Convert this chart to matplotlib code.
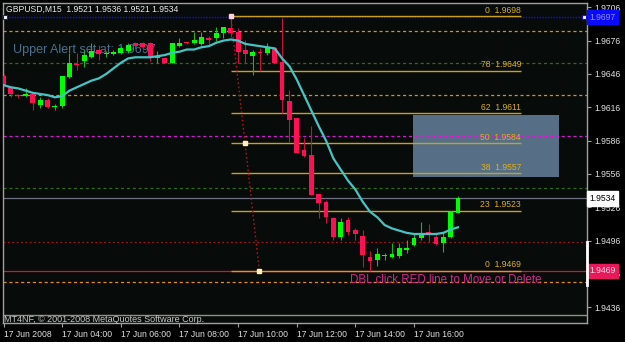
import matplotlib
matplotlib.use('Agg')
import matplotlib.pyplot as plt
from matplotlib.patches import Rectangle

plt.rcParams['font.family'] = ['Liberation Sans', 'DejaVu Sans']

# GBPUSD M15, 17 Jun 2008, bars from 02:00 to 17:30
opens = [1.9644, 1.9633, 1.9627, 1.9626, 1.9628, 1.9618, 1.9623, 1.9616, 1.9617, 1.9643,
         1.9655, 1.9658, 1.9661, 1.9668, 1.9664, 1.9664, 1.9665, 1.9667, 1.9674, 1.9674,
         1.9674, 1.9660, 1.9660, 1.9656, 1.9671, 1.9675, 1.9674, 1.9673, 1.9678, 1.9678,
         1.9683, 1.9687, 1.9684, 1.9668, 1.9662, 1.9666, 1.9665, 1.9669, 1.9657, 1.9622,
         1.9606, 1.9578, 1.9573, 1.9538, 1.9531, 1.9516, 1.9499, 1.9515, 1.9506, 1.9500,
         1.9481, 1.9479, 1.9482, 1.9481, 1.9482, 1.9488, 1.9492, 1.9498, 1.9504, 1.9499,
         1.9494, 1.9499, 1.9521]
highs = [1.9646, 1.9634, 1.9628, 1.9633, 1.9629, 1.9625, 1.9624, 1.9619, 1.9644, 1.9665,
         1.9665, 1.9668, 1.9674, 1.9672, 1.9667, 1.9668, 1.9671, 1.9674, 1.9675, 1.9675,
         1.9675, 1.9667, 1.9661, 1.9674, 1.9678, 1.9675, 1.9684, 1.9684, 1.9680, 1.9688,
         1.9688, 1.9698, 1.9687, 1.9677, 1.9668, 1.9669, 1.9674, 1.9670, 1.9696, 1.9632,
         1.9606, 1.9588, 1.9599, 1.9538, 1.9533, 1.9517, 1.9516, 1.9517, 1.9507, 1.9506,
         1.9487, 1.9489, 1.9485, 1.9494, 1.9494, 1.9497, 1.9503, 1.9513, 1.9511, 1.9502,
         1.9504, 1.9523, 1.9536]
lows = [1.9634, 1.9625, 1.9624, 1.9625, 1.9614, 1.9615, 1.9615, 1.9614, 1.9615, 1.9642,
        1.9650, 1.9652, 1.9660, 1.9659, 1.9661, 1.9663, 1.9664, 1.9665, 1.9669, 1.9668,
        1.9658, 1.9656, 1.9656, 1.9656, 1.9670, 1.9673, 1.9673, 1.9672, 1.9673, 1.9676,
        1.9678, 1.9679, 1.9656, 1.9656, 1.9645, 1.9649, 1.9663, 1.9656, 1.9611, 1.9585,
        1.9575, 1.9571, 1.9537, 1.9516, 1.9512, 1.9497, 1.9497, 1.9501, 1.9497, 1.9472,
        1.9469, 1.9473, 1.9479, 1.9480, 1.9480, 1.9485, 1.9491, 1.9497, 1.9495, 1.9492,
        1.9486, 1.9498, 1.9521]
closes = [1.9636, 1.9628, 1.9626, 1.9628, 1.9620, 1.9623, 1.9616, 1.9617, 1.9644, 1.9656,
          1.9654, 1.9663, 1.9667, 1.9664, 1.9665, 1.9666, 1.9669, 1.9672, 1.9671, 1.9670,
          1.9661, 1.9661, 1.9656, 1.9674, 1.9674, 1.9674, 1.9677, 1.9679, 1.9677, 1.9683,
          1.9688, 1.9683, 1.9666, 1.9664, 1.9666, 1.9665, 1.9670, 1.9656, 1.9623, 1.9605,
          1.9575, 1.9572, 1.9537, 1.9530, 1.9517, 1.9499, 1.9513, 1.9504, 1.9502, 1.9483,
          1.9478, 1.9484, 1.9483, 1.9484, 1.9489, 1.9489, 1.9498, 1.9503, 1.9501, 1.9493,
          1.9499, 1.9522, 1.9534]
ma_values = [1.9636, 1.9634, 1.9633, 1.9631, 1.9629, 1.9628, 1.9627, 1.9625, 1.9626, 1.9631,
             1.9634, 1.9637, 1.9640, 1.9642, 1.9646, 1.9651, 1.9656, 1.9660, 1.9661, 1.9661,
             1.9661, 1.9662, 1.9663, 1.9665, 1.9666, 1.9668, 1.9668, 1.9670, 1.9671, 1.9674,
             1.9676, 1.9677, 1.9676, 1.9673, 1.9672, 1.9671, 1.9670, 1.9669, 1.9660, 1.9653,
             1.9641, 1.9627, 1.9613, 1.9599, 1.9586, 1.9570, 1.9560, 1.9550, 1.9542, 1.9531,
             1.9522, 1.9517, 1.9510, 1.9507, 1.9505, 1.9503, 1.9502, 1.9502, 1.9502, 1.9502,
             1.9503, 1.9506, 1.9508]

time_ticks = [0, 8, 16, 24, 32, 40, 48, 56]
time_labels = ['17 Jun 2008', '17 Jun 04:00', '17 Jun 06:00', '17 Jun 08:00',
               '17 Jun 10:00', '17 Jun 12:00', '17 Jun 14:00', '17 Jun 16:00']
price_ticks = [1.9436, 1.9466, 1.9496, 1.9526, 1.9556, 1.9586, 1.9616, 1.9646, 1.9676, 1.9706]

fib_levels = ['0', '78', '62', '50', '38', '23', '0']
fib_prices = [1.9698, 1.9649, 1.9611, 1.9584, 1.9557, 1.9523, 1.9469]

upper_alert = 1.9697
lower_alert = 1.9469
last_price = 1.9534
orange_levels = [1.9685, 1.9627, 1.9459]
green_levels = [1.9656, 1.9543]
magenta_level = 1.9590
darkred_level = 1.9495
zone_low, zone_high = 1.9553, 1.9609

W, H = 625, 342
fig = plt.figure(figsize=(W / 100, H / 100), dpi=100, facecolor='black')
ax = fig.add_axes([2.5 / W, 1 - 323 / H, 584.5 / W, 320.5 / H])
ax.set_facecolor('#070b09')
ax.set_xlim(-0.14, 79.6)
ax.set_ylim(1.94219, 1.97103)

# shaded zone
ax.add_patch(Rectangle((55.9, zone_low), 19.9, zone_high - zone_low,
                       facecolor='#566f86', edgecolor='none', zorder=1))

# horizontal levels
for lv in orange_levels:
    ax.axhline(lv, color='#e08c1c', lw=0.9, dashes=(2.5, 2.2), zorder=1.5)
for lv in green_levels:
    ax.axhline(lv, color='#2e6b1e', lw=0.9, dashes=(2.5, 2.2), zorder=1.5)
ax.axhline(magenta_level, color='#d21cd2', lw=0.9, dashes=(2.5, 2.2), zorder=1.5)
ax.axhline(darkred_level, color='#a01818', lw=0.9, dashes=(1.5, 2.0), zorder=1.5)
ax.axhline(lower_alert, color='#e0102c', lw=0.9, zorder=1.6)
ax.axhline(upper_alert, color='#1010ff', lw=1.0, dashes=(1, 1), zorder=1.6)
ax.axhline(last_price, color='#6e7280', lw=0.9, zorder=1.6)
ax.axhline(1.94291, color='#8a948a', lw=1.0, zorder=1.6)

# fibonacci retracement
fib_start, fib_end, fib_right = 31, 34.9, 70.6
for lvl, p in zip(fib_levels, fib_prices):
    ax.hlines(p, fib_start, fib_right, color='#c9a020', lw=1.0, zorder=2)
    ax.text(fib_right, p + 0.00012, f'{lvl}  {p:.4f}', color='#dcb020',
            fontsize=6.2, ha='right', va='bottom', zorder=6)
ax.plot([fib_start, fib_end], [fib_prices[0], fib_prices[-1]], color='#b81414',
        lw=1.0, dashes=(1.2, 1.8), zorder=4)
ax.plot([fib_start], [fib_prices[0]], 's', ms=2.5, mfc='#ffd0d8', mec='#ffd0d8', zorder=7)
ax.plot([(fib_start + fib_end) / 2], [(fib_prices[0] + fib_prices[-1]) / 2], 's', ms=2.5,
        mfc='#fff0c0', mec='#fff0c0', zorder=7)
ax.plot([fib_end], [fib_prices[-1]], 's', ms=2.5, mfc='#fff0c0', mec='#fff0c0', zorder=7)

# alert line handles
ax.plot([0.2, 79.2], [upper_alert, upper_alert], 's', ms=3, mfc='white', mec='#1010ff',
        mew=0.8, zorder=7)

# on-chart labels sit under the candles
ax.text(13 / W, 1 - 50.5 / H, 'Upper Alert set at: 1.9697', transform=fig.transFigure,
        color='#4a7090', fontsize=9, va='center', zorder=2.5)
ax.text(350 / W, 1 - 280 / H, 'DBL click RED line to Move or Delete', transform=fig.transFigure,
        color='#cc2a8c', fontsize=8.3, va='center', zorder=2.5)

# candles
for i, (o, h, l, c) in enumerate(zip(opens, highs, lows, closes)):
    up = c > o
    body = '#00ff00' if up else '#ff1055'
    wick = '#22b022' if up else '#c8103f'
    ax.vlines(i, l, h, color=wick, lw=0.8, zorder=3)
    ax.bar(i, max(abs(c - o), 0.00009), bottom=min(o, c), width=0.66, color=body,
           lw=0, zorder=3.5)

# moving average
ax.plot(range(len(ma_values)), ma_values, color='#46c4c4', lw=1.6, zorder=5)

# axes
ax.yaxis.tick_right()
ax.set_yticks(price_ticks)
ax.set_yticklabels([f'{p:.4f}' for p in price_ticks])
ax.set_xticks(time_ticks)
ax.set_xticklabels(time_labels, ha='left')
ax.tick_params(colors='#a0a0a0', labelcolor='#e0e0e0', labelsize=6.2, length=3,
               width=0.8, pad=2)
for s in ax.spines.values():
    s.set_color('#a0a0a0')
    s.set_linewidth(1.0)

# price boxes on the scale
yt = ax.get_yaxis_transform()
ax.text(1.004, upper_alert, f'{upper_alert:.4f}', transform=yt, fontsize=6.2, color='#9090ff',
        ha='left', va='center', zorder=8, clip_on=False,
        bbox=dict(boxstyle='square,pad=0.3', fc='#0a0aff', ec='#0a0aff'))
ax.text(1.004, last_price, f'{last_price:.4f}', transform=yt, fontsize=6.2, color='black',
        ha='left', va='center', zorder=8, clip_on=False,
        bbox=dict(boxstyle='square,pad=0.3', fc='white', ec='white'))
ax.text(1.004, lower_alert, f'{lower_alert:.4f}', transform=yt, fontsize=6.2, color='#ffd8e4',
        ha='left', va='center', zorder=8, clip_on=False,
        bbox=dict(boxstyle='square,pad=0.3', fc='#e8185a', ec='#e8185a'))
ax.plot([1.0, 1.0], [1.9456, 1.9495], transform=yt, color='white', lw=2, clip_on=False,
        zorder=8)

# header and footer
fig.text(6 / W, 1 - 9.5 / H, 'GBPUSD,M15  1.9521 1.9536 1.9521 1.9534', color='#e8e8e8',
         fontsize=6.2, va='center')
fig.text(4 / W, 1 - 319 / H, 'MT4NF, \u00a9 2001-2008 MetaQuotes Software Corp.',
         color='#c8c8c8', fontsize=6.5, va='center')

fig.savefig('out.png', dpi=100, facecolor=fig.get_facecolor())
